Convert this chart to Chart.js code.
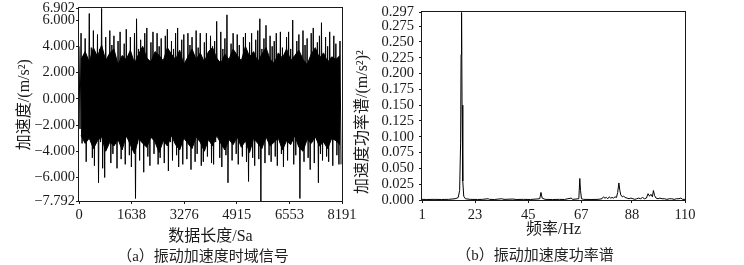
<!DOCTYPE html>
<html>
<head>
<meta charset="utf-8">
<script src="https://cdn.jsdelivr.net/npm/chart.js@4.4.1/dist/chart.umd.min.js"></script>
<style>
  html, body { margin: 0; padding: 0; background: #fff; }
  #wrap { position: relative; width: 744px; height: 265px; overflow: hidden; }
  canvas { position: absolute; top: 0; }
  .cap { position: absolute; font: 15px "Liberation Serif", "Noto Sans CJK SC", serif; color: #222; text-align: center; line-height: 15px; white-space: nowrap; }
</style>
</head>
<body>
<div id="wrap">
  <canvas id="timeChart" width="372" height="265" style="left:0"></canvas>
  <canvas id="psdChart" width="398" height="265" style="left:346px"></canvas>
  <div class="cap" style="left:103px; width:200px; top:249px;">（a）振动加速度时域信号</div>
  <div class="cap" style="left:435px; width:200px; top:248px;">（b）振动加速度功率谱</div>
</div>
<script>
// time signal: upper / lower swing of each 64-sample block
var peakHi = [
  4.0, 5.0, 2.6, 4.6, 2.9, 6.5, 3.9, 5.2, 2.4, 4.9, 3.8, 6.902, 2.7, 4.7, 2.2, 5.2,
  4.1, 4.8, 2.5, 4.4, 5.1, 2.8, 4.2, 5.3, 2.6, 4.7, 2.1, 5.0, 6.1, 3.8, 4.5, 2.4,
  5.0, 5.4, 2.9, 4.3, 5.1, 2.3, 5.0, 4.0, 4.6, 2.7, 4.8, 5.3, 2.5, 4.4, 3.8, 5.0,
  5.4, 2.8, 4.5, 4.9, 2.4, 5.0, 4.1, 4.7, 2.6, 5.2, 3.9, 5.0, 2.7, 4.3, 5.0, 2.9,
  4.8, 4.0, 4.4, 5.9, 2.5, 5.1, 3.8, 4.6, 6.4, 2.7, 4.2, 5.0, 2.9, 4.9, 4.1, 2.6,
  4.7, 5.0, 2.8, 4.3, 5.0, 2.4, 4.5, 5.2, 6.1, 3.8, 4.6, 5.6, 2.6, 4.8, 4.0, 4.4,
  5.0, 2.9, 5.1, 3.9, 2.5, 4.7, 5.1, 3.8, 6.0, 2.7, 4.4, 4.9, 2.8, 5.2, 4.1, 4.6,
  2.6, 5.0, 5.4, 3.8, 4.3, 4.8, 5.8, 2.7, 4.7, 4.0, 5.1, 2.8, 4.8, 4.2, 2.9, 4.4
];
var peakLo = [
  -2.3, -3.4, -2.8, -4.8, -3.0, -2.6, -4.5, -5.1, -2.9, -6.4, -3.3, -5.3, -6.0, -3.1, -2.7, -4.9,
  -4.2, -2.9, -5.3, -3.2, -4.6, -2.6, -5.0, -3.0, -4.3, -5.2, -2.8, -7.6, -3.4, -4.7, -3.1, -5.6,
  -2.9, -4.4, -5.1, -3.0, -4.2, -2.7, -5.0, -4.5, -3.2, -4.9, -2.9, -5.5, -3.3, -4.7, -2.8, -4.3,
  -5.2, -3.1, -5.0, -2.7, -4.6, -3.4, -5.4, -3.0, -4.8, -4.2, -2.8, -5.1, -4.8, -3.2, -4.4, -2.9,
  -4.9, -5.0, -3.3, -2.6, -4.5, -5.2, -3.0, -4.3, -6.4, -3.1, -4.7, -2.8, -4.2, -5.0, -3.0, -4.4,
  -2.9, -4.8, -6.3, -3.2, -4.5, -5.1, -2.7, -4.6, -7.792, -3.3, -4.9, -2.9, -4.3, -4.8, -3.1, -4.4,
  -5.1, -2.8, -4.2, -5.2, -3.0, -4.7, -3.4, -2.7, -5.0, -4.3, -3.1, -7.6, -3.2, -4.8, -2.9, -4.5,
  -5.4, -3.3, -4.9, -2.8, -6.4, -4.2, -4.7, -3.0, -4.4, -4.8, -3.1, -5.1, -2.9, -4.3, -5.0, -5.0
];
// dense black core of the signal, edges of each 128-sample block
var coreHi = [
  3.0, 3.6, 2.8, 3.9, 3.2, 4.1, 2.9, 3.5, 3.8, 2.6, 3.3, 3.0, 3.7, 2.7, 3.4, 4.0,
  3.1, 2.8, 3.6, 3.3, 2.9, 3.9, 3.4, 3.0, 3.7, 2.6, 3.2, 3.8, 3.0, 3.5, 2.8, 3.6,
  3.9, 3.1, 2.7, 3.4, 3.0, 3.8, 3.3, 2.9, 4.0, 3.2, 3.6, 2.8, 3.4, 3.9, 3.0, 2.7,
  3.5, 3.1, 3.8, 2.9, 3.3, 3.7, 3.0, 2.6, 3.4, 3.9, 3.1, 3.5, 2.8, 3.2, 3.0, 3.3
];
var coreLo = [
  -2.8, -3.4, -3.0, -3.8, -3.2, -2.9, -4.0, -3.3, -3.6, -3.1, -3.9, -2.8, -3.5, -4.2, -3.0, -3.4,
  -3.7, -2.9, -3.3, -4.1, -3.2, -3.6, -2.8, -3.5, -3.9, -3.0, -3.4, -3.8, -2.9, -3.3, -4.0, -3.1,
  -3.6, -2.8, -3.4, -3.9, -3.1, -3.5, -2.9, -3.7, -3.2, -4.1, -3.0, -3.4, -3.8, -2.9, -3.6, -3.3,
  -3.0, -3.9, -3.2, -3.5, -2.8, -3.7, -4.0, -3.1, -3.4, -2.9, -3.6, -3.3, -3.8, -3.0, -3.2, -3.5
];
var blockSize = 64;
var coreBlock = 128;
var timeXTicks = [0, 1638, 3276, 4915, 6553, 8191];
var timeYTicks = [-7.792, -6, -4, -2, 0, 2, 4, 6, 6.902];

// power spectrum
var psdFreq = [
  1, 3, 6, 9, 12, 14.7, 15.5, 16.0, 16.6, 17.0,
  17.2, 17.4, 17.6, 17.9, 18.3, 19.0, 21, 24, 26, 28.4,
  29, 31, 34, 35, 38.7, 40, 43, 46, 49.8, 50.3,
  50.8, 52, 55, 58, 60, 62.8, 63.5, 66.0, 66.4, 66.7,
  67.1, 68, 71, 74, 75.6, 76.2, 76.8, 77.4, 78.0, 78.6,
  79.2, 79.8, 80.4, 81.0, 81.6, 82.1, 82.6, 83.0, 83.4, 84.0,
  84.6, 85.2, 86, 86.8, 87.6, 88.4, 89.2, 90, 90.8, 91.6,
  92.4, 93.2, 94.0, 94.7, 95.3, 95.9, 96.5, 96.9, 97.4, 98.0,
  98.8, 99.6, 100.5, 101.5, 102.5, 103.5, 104.5, 105.5, 106.5, 107.5,
  108.3, 109, 110
];
var psdValue = [
  0.001, 0.0008, 0.001, 0.0008, 0.001, 0.002, 0.003, 0.004, 0.015, 0.09,
  0.23, 0.297, 0.15, 0.03, 0.006, 0.002, 0.001, 0.0008, 0.001, 0.002,
  0.001, 0.0008, 0.002, 0.001, 0.0015, 0.0008, 0.001, 0.0008, 0.002, 0.012,
  0.003, 0.001, 0.0008, 0.001, 0.0008, 0.003, 0.001, 0.002, 0.034, 0.015,
  0.002, 0.001, 0.0008, 0.001, 0.002, 0.005, 0.003, 0.004, 0.002, 0.005,
  0.003, 0.004, 0.003, 0.005, 0.004, 0.012, 0.027, 0.015, 0.008, 0.005,
  0.006, 0.004, 0.003, 0.002, 0.003, 0.002, 0.001, 0.002, 0.003, 0.002,
  0.004, 0.002, 0.003, 0.010, 0.006, 0.009, 0.005, 0.015, 0.007, 0.003,
  0.002, 0.003, 0.002, 0.002, 0.001, 0.002, 0.002, 0.001, 0.002, 0.002,
  0.003, 0.001, 0.001
];
var psdXTicks = [1, 23, 45, 67, 88, 110];
var psdYTicks = [0, 0.025, 0.05, 0.075, 0.1, 0.125, 0.15, 0.175, 0.2, 0.225, 0.25, 0.275, 0.297];

var numFont = { family: "'Liberation Serif', 'Times New Roman', serif", size: 14.5, lineHeight: 1 };
var titleFont = { family: "'Liberation Serif', 'Noto Sans CJK SC', serif", size: 16, lineHeight: 1 };
var ink = '#1a1a1a';

// box around the plot area
var frame = {
  id: 'frame',
  afterDraw: function (chart) {
    var a = chart.chartArea, ctx = chart.ctx;
    ctx.save();
    ctx.strokeStyle = ink;
    ctx.lineWidth = 1;
    ctx.strokeRect(Math.round(a.left) - 0.5, Math.round(a.top) - 0.5, Math.round(a.right - a.left) + 1, Math.round(a.bottom - a.top) + 1);
    ctx.restore();
  }
};

function fmtNum(v) {
  return v.toFixed(3).replace('-', '\u2212');
}

function axisGrid() {
  return { display: true, drawOnChartArea: false, drawTicks: true, tickLength: 3, color: ink };
}

function makeOptions(o) {
  return {
    responsive: false,
    animation: false,
    devicePixelRatio: 1,
    layout: { padding: o.padding },
    plugins: { legend: { display: false }, tooltip: { enabled: false }, title: { display: false } },
    elements: { point: { radius: 0 }, line: { tension: 0 } },
    scales: {
      x: {
        type: 'linear', min: o.xMin, max: o.xMax,
        afterBuildTicks: function (s) { s.ticks = o.xTicks.map(function (v) { return { value: v }; }); },
        afterFit: function (s) { s.height = o.xHeight; },
        grid: axisGrid(),
        border: { display: false },
        ticks: { autoSkip: false, maxRotation: 0, padding: o.xTickPad, color: ink, font: numFont,
                 callback: function (v) { return String(v); } },
        title: { display: true, text: o.xTitle, color: ink, font: titleFont, padding: { top: 0, bottom: o.xTitlePad } }
      },
      y: {
        type: 'linear', min: o.yMin, max: o.yMax,
        afterBuildTicks: function (s) { s.ticks = o.yTicks.map(function (v) { return { value: v }; }); },
        afterFit: function (s) { s.width = o.yWidth; },
        grid: axisGrid(),
        border: { display: false },
        ticks: { autoSkip: false, padding: o.yTickPad, color: ink, font: numFont,
                 callback: function (v) { return fmtNum(v); } },
        title: { display: true, text: o.yTitle, color: ink, font: titleFont, padding: { top: o.yTitlePad, bottom: 0 } }
      }
    }
  };
}

// (a) time domain signal
var timePoints = [];
for (var k = 0; k < peakHi.length; k++) {
  timePoints.push({ x: k * blockSize, y: peakHi[k] });
  timePoints.push({ x: k * blockSize + blockSize / 2, y: peakLo[k] });
}
var coreTop = coreHi.map(function (v, j) { return { x: j * coreBlock + coreBlock / 2, y: v }; });
var coreBottom = coreLo.map(function (v, j) { return { x: j * coreBlock + coreBlock / 2, y: v }; });

new Chart(document.getElementById('timeChart').getContext('2d'), {
  type: 'line',
  data: {
    datasets: [
      { data: timePoints, borderColor: '#000', borderWidth: 1, fill: false, order: 0 },
      { data: coreTop, borderColor: '#000', borderWidth: 1, backgroundColor: '#000', fill: '+1', order: 1 },
      { data: coreBottom, borderColor: '#000', borderWidth: 1, fill: false, order: 2 }
    ]
  },
  options: makeOptions({
    padding: { left: 0, top: 7, right: 30, bottom: 0 },
    xMin: 0, xMax: 8191, xTicks: timeXTicks, xHeight: 64, xTickPad: 4, xTitle: '数据长度/Sa', xTitlePad: 20,
    yMin: -7.792, yMax: 6.902, yTicks: timeYTicks, yWidth: 79, yTickPad: 1, yTitle: '加速度/(m/s²)', yTitlePad: 17
  }),
  plugins: [frame]
});

// (b) power spectrum
var psdPoints = psdFreq.map(function (f, i) { return { x: f, y: psdValue[i] }; });
new Chart(document.getElementById('psdChart').getContext('2d'), {
  type: 'line',
  data: { datasets: [{ data: psdPoints, borderColor: '#000', borderWidth: 1, fill: false }] },
  options: makeOptions({
    padding: { left: 0, top: 9, right: 59, bottom: 0 },
    xMin: 1, xMax: 110, xTicks: psdXTicks, xHeight: 65, xTickPad: 5, xTitle: '频率/Hz', xTitlePad: 27,
    yMin: 0, yMax: 0.297, yTicks: psdYTicks, yWidth: 76, yTickPad: 5, yTitle: '加速度功率谱/(m/s²)²\u3000\u3000', yTitlePad: 9
  }),
  plugins: [frame]
});
</script>
</body>
</html>
